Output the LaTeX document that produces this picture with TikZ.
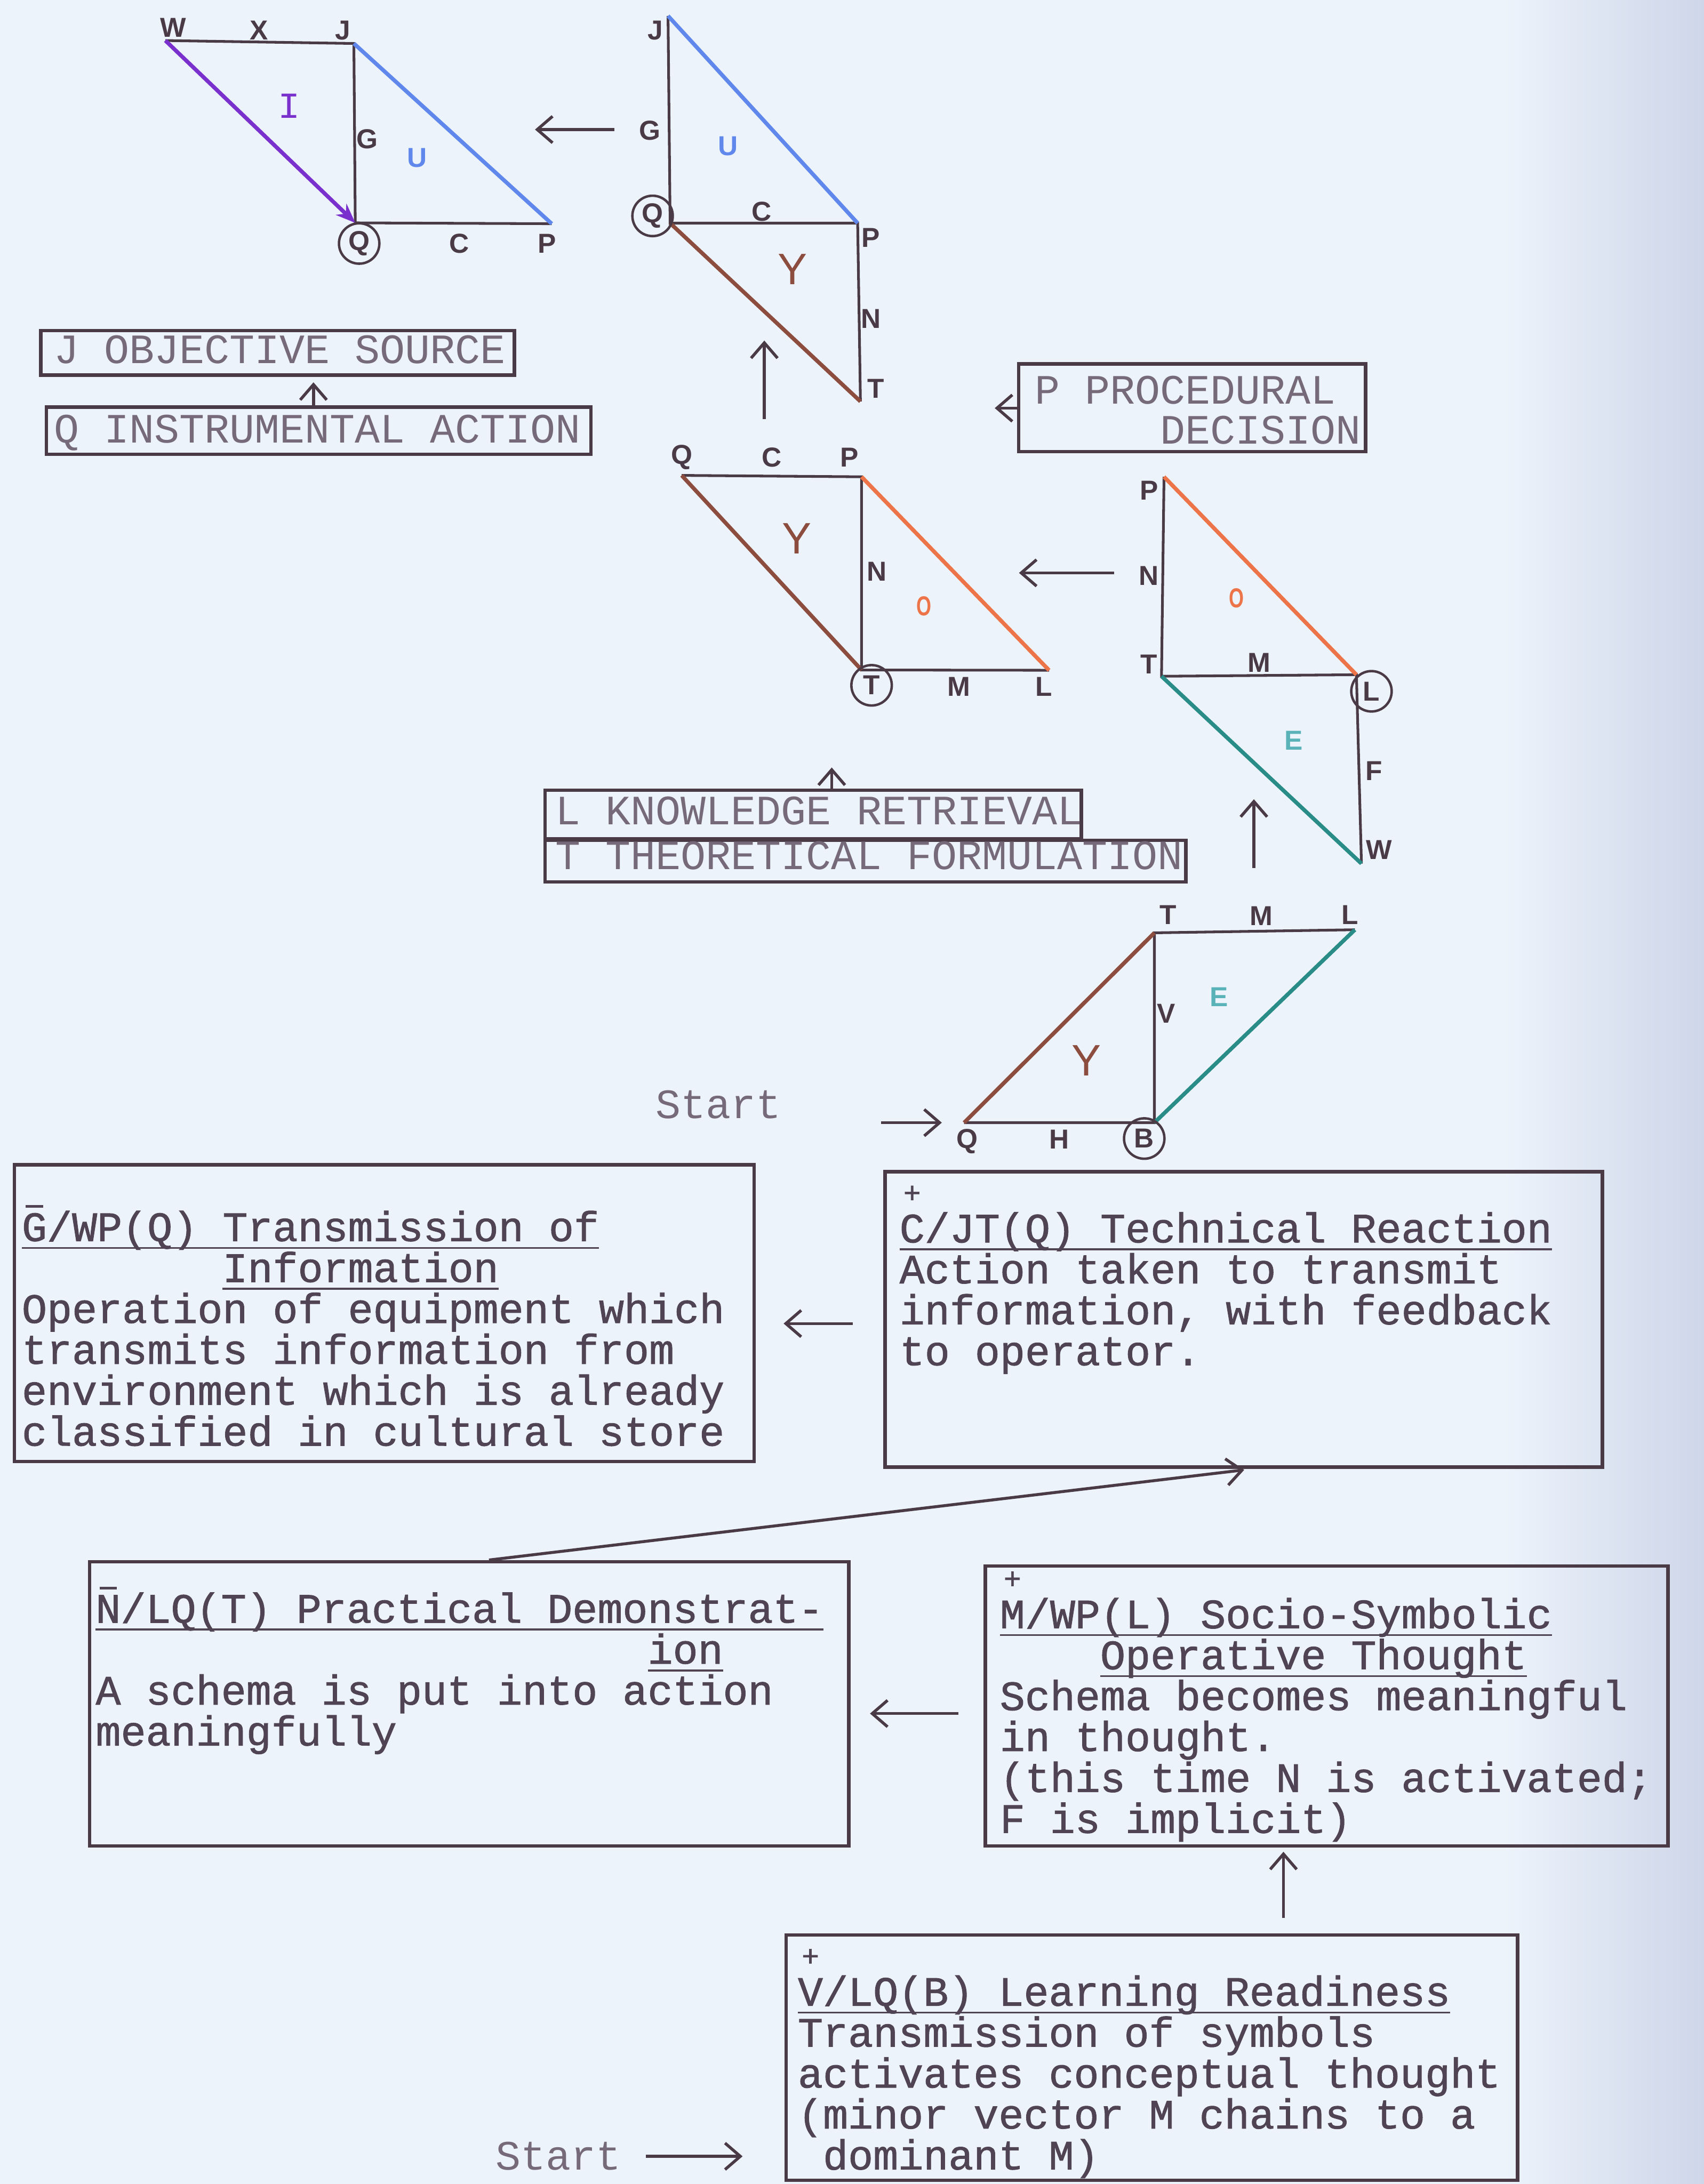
\documentclass[tikz,border=0pt]{standalone}
\usepackage{fontspec}
\newfontfamily\typefont{Liberation Mono}[FakeBold=1.2]
\newfontfamily\platefont{Liberation Mono}
\newfontfamily\handfont{Liberation Sans Bold}
\newfontfamily\yfont{Liberation Sans}
\usetikzlibrary{arrows.meta}

\definecolor{paper}{RGB}{236,243,251}
\definecolor{edge}{RGB}{206,214,233}
\definecolor{ink}{RGB}{74,58,70}
\definecolor{type}{RGB}{80,68,84}
\definecolor{faded}{RGB}{118,106,122}
\definecolor{vpurple}{RGB}{122,48,205}
\definecolor{vblue}{RGB}{96,136,236}
\definecolor{vbrown}{RGB}{140,76,62}
\definecolor{vorange}{RGB}{236,116,72}
\definecolor{vteal}{RGB}{42,140,134}
\definecolor{lteal}{RGB}{88,178,184}

% marks typed over a letter
\newcommand\plusover[1]{\rlap{\makebox[0.6em]{\smash{\raisebox{0.95em}{\fontsize{6}{6}\selectfont +}}}}#1}
\newcommand\barover[1]{\rlap{\makebox[0.6em]{\smash{\raisebox{0.8em}{\rule{0.42em}{0.5pt}}}}}#1}
\newcommand\typeul[1]{\underline{\smash{#1}}}
\newcommand\typegap[1]{\phantom{#1}}
\newcommand\tightlines{\lineskiplimit=-10pt\relax}
\newcommand\wordgaps{\spaceskip=0pt\xspaceskip=0pt\relax}

\begin{document}
\begin{tikzpicture}[x=0.1mm, y=-0.1mm,
  side/.style={ink, line width=0.55pt},
  purpleside/.style={vpurple, line width=0.8pt},
  blueside/.style={vblue, line width=0.8pt},
  brownside/.style={vbrown, line width=0.8pt},
  orangeside/.style={vorange, line width=0.8pt},
  tealside/.style={vteal, line width=0.8pt},
  flow/.style={ink, line width=0.6pt, -{Straight Barb[length=1.1mm,width=1.9mm]}},
  tag/.style={font=\handfont\fontsize{5.6}{5.6}\selectfont, text=ink, inner sep=0},
  ytag/.style={tag, text=vbrown, font=\yfont\fontsize{9}{9}\selectfont},
  ring/.style={tag, circle, draw=ink, line width=0.5pt, minimum size=2.9mm},
  card/.style={draw=ink, line width=0.7pt, inner sep=0, anchor=north west},
  typed/.style={font=\typefont\fontsize{8.54}{8.36}\selectfont\frenchspacing\tightlines, text=type, inner sep=0, anchor=base west, execute at begin node=\wordgaps},
  plate/.style={font=\platefont\fontsize{8.54}{8.2}\selectfont\tightlines, text=faded, inner sep=0, anchor=base west, execute at begin node=\wordgaps}]

% paper
\fill[paper] (0,0) rectangle (1223,1568);
\shade[left color=paper, right color=edge] (1080,0) rectangle (1223,1568);
\useasboundingbox (0,0) rectangle (1223,1568);

% draw figure W X J / Q C P
\coordinate (aW) at (118.7,29.1);
\coordinate (aJ) at (254,31.2);
\coordinate (aQ) at (255,160);
\coordinate (aP) at (396,160.6);
\draw[side] (aW) -- (aJ) -- (aQ) -- (aP);
\draw[blueside] (aJ) -- (aP);
\draw[purpleside, -{Stealth[length=1.4mm,width=1.1mm]}] (aW) -- (aQ);
\node[tag] (aWt) at (124.4,19.8) {W};
\node[tag] (aXt) at (186,21.8) {X};
\node[tag] (aJt) at (246,21.8) {J};
\node[tag] (aGt) at (263.6,99.9) {G};
\node[tag, text=vpurple, font=\platefont\fontsize{7.5}{7.5}\selectfont] (aIt) at (207.6,76) {I};
\node[tag, text=vblue] (aUt) at (299.4,113.4) {U};
\node[ring] (aQt) at (257.8,174.8) {Q};
\node[tag] (aCt) at (329.5,174.8) {C};
\node[tag] (aPt) at (392.6,174.8) {P};

\coordinate (ba1) at (441,93);
\coordinate (ba2) at (384,93);
\draw[flow] (ba1) -- (ba2);

% draw figure J G / Q C P / N T
\coordinate (bJ) at (479.5,11.4);
\coordinate (bQ) at (481,160.2);
\coordinate (bP) at (615.6,160.2);
\coordinate (bT) at (617.6,288.2);
\draw[side] (bJ) -- (bQ) -- (bP) -- (bT);
\draw[blueside] (bJ) -- (bP);
\draw[brownside] (bQ) -- (bT);
\node[tag] (bJt) at (470.3,21.8) {J};
\node[tag] (bGt) at (466.5,93.6) {G};
\node[tag, text=vblue] (bUt) at (522.5,105) {U};
\node[ring] (bQt) at (468.4,155) {Q};
\node[tag] (bCt) at (546.7,151.9) {C};
\node[tag] (bPt) at (625,170.6) {P};
\node[ytag] (bYt) at (569,193.5) {Y};
\node[tag] (bNt) at (625,229) {N};
\node[tag] (bTt) at (628.8,278.8) {T};

\coordinate (cb1) at (548.6,300.7);
\coordinate (cb2) at (548.6,244.5);
\draw[flow] (cb1) -- (cb2);

% draw figure Q C P / N / T M L
\coordinate (cQ) at (489.3,341.3);
\coordinate (cP) at (618.4,342.3);
\coordinate (cT) at (618.4,481);
\coordinate (cL) at (753,481.2);
\draw[side] (cQ) -- (cP) -- (cT) -- (cL);
\draw[brownside] (cQ) -- (cT);
\draw[orangeside] (cP) -- (cL);
\node[tag] (cQt) at (489.3,328.4) {Q};
\node[tag] (cCt) at (553.9,328.4) {C};
\node[tag] (cPt) at (609.5,328.4) {P};
\node[ytag] (cYt) at (571.8,386.5) {Y};
\node[tag] (cNt) at (629.2,410.2) {N};
\node[tag, text=vorange] (cOt) at (663.3,435) {\scalebox{0.7}[1]{O}};
\node[ring] (cTt) at (625.6,492) {T};
\node[tag] (cMt) at (688.4,493) {M};
\node[tag] (cLt) at (749.4,493) {L};

\coordinate (dc1) at (799.6,411.3);
\coordinate (dc2) at (731.4,411.3);
\draw[flow] (dc1) -- (dc2);

% draw figure P N T / M L / F W
\coordinate (dP) at (835.5,342.3);
\coordinate (dT) at (833.7,485.5);
\coordinate (dL) at (973.6,484.4);
\coordinate (dW) at (977.2,620);
\draw[side] (dP) -- (dT) -- (dL) -- (dW);
\draw[orangeside] (dP) -- (dL);
\draw[tealside] (dT) -- (dW);
\node[tag] (dPt) at (824.7,352) {P};
\node[tag] (dNt) at (824.7,413.5) {N};
\node[tag] (dTt) at (824.7,477) {T};
\node[tag] (dMt) at (903.6,475.8) {M};
\node[tag, text=vorange] (dOt) at (887.5,429.6) {\scalebox{0.7}[1]{O}};
\node[ring] (dLt) at (984.4,496.3) {L};
\node[tag, text=lteal] (dEt) at (928.7,531.7) {E};
\node[tag] (dFt) at (986.2,553.3) {F};
\node[tag] (dWt) at (989.7,610.3) {W};

\coordinate (ed1) at (900,623.3);
\coordinate (ed2) at (900,573.8);
\draw[flow] (ed1) -- (ed2);

% draw figure T M L / V / Q H B
\coordinate (eT) at (828.6,669.7);
\coordinate (eL) at (972.5,667.5);
\coordinate (eQ) at (692,806);
\coordinate (eB) at (828.6,806);
\draw[side] (eL) -- (eT) -- (eB) -- (eQ);
\draw[brownside] (eQ) -- (eT);
\draw[tealside] (eB) -- (eL);
\node[tag] (eTt) at (838.3,656.8) {T};
\node[tag] (eMt) at (905.4,657.5) {M};
\node[tag] (eLt) at (968.9,656.8) {L};
\node[tag] (eVt) at (837.1,727.8) {V};
\node[tag, text=lteal] (eEt) at (875,715.6) {E};
\node[ytag] (eYt) at (779.8,761.5) {Y};
\node[tag] (eQt) at (694.4,819.6) {Q};
\node[tag] (eHt) at (760.3,818.1) {H};
\node[ring] (eBt) at (821.3,817.4) {B};

\node[plate] (start1) at (470,803) {Start};
\draw[flow, shorten <=7.1mm, shorten >=1.6mm] (start1.east |- eQ) -- (eQ);

% name plates
\node[card, minimum width=34mm, minimum height=3.2mm] (jbox) at (28,236) {};
\node[plate] (jtext) at (38,261) {J OBJECTIVE SOURCE};
\node[card, minimum width=39.1mm, minimum height=3.4mm] (qbox) at (32,291) {};
\node[plate] (qtext) at (38,318) {Q INSTRUMENTAL ACTION};
\draw[flow, shorten >=0.4mm] ([xshift=19.3mm]qbox.north west) -- ([xshift=19.3mm]qbox.north west |- jbox.south);

\node[card, minimum width=24.9mm, minimum height=6.3mm] (pbox) at (730,260) {};
\node[plate, text width=24mm] (ptext) at (742,290) {P PROCEDURAL\\\typegap{00000}DECISION};
\coordinate (pfree) at (714,293);
\draw[flow] (pbox.west |- pfree) -- (pfree);

\node[card, minimum width=38.5mm, minimum height=3.5mm] (lbox) at (390,566) {};
\node[plate] (ltext) at (398,592) {L KNOWLEDGE RETRIEVAL};
\node[card, minimum width=46mm, minimum height=3mm] (tbox) at (390,602) {};
\node[plate] (ttext) at (398,624) {T THEORETICAL FORMULATION};
\coordinate (lfree) at (597,551);
\draw[flow] (lbox.north -| lfree) -- (lfree);

% typed cards
\node[card, minimum width=53.1mm, minimum height=21.3mm] (gbox) at (9,835) {};
\node[typed, text width=52mm] (gtext) at (15,891) {\typeul{\barover{G}/WP(Q) Transmission of}\\
\typegap{00000000}\typeul{Information}\\
Operation of equipment which\\
transmits information from\\
environment which is already\\
classified in cultural store};

\node[card, minimum width=51.5mm, minimum height=21.2mm] (cbox) at (634,840) {};
\node[typed, text width=50mm] (ctext) at (645,892) {\typeul{\plusover{C}/JT(Q) Technical Reaction}\\
Action taken to transmit\\
information, with feedback\\
to operator.};

\node[card, minimum width=54.5mm, minimum height=20.4mm] (nbox) at (63,1120) {};
\node[typed, text width=53.5mm] (ntext) at (68,1165) {\typeul{\barover{N}/LQ(T) Practical Demonstrat-}\\
\typegap{0000000000000000000000}\typeul{ion}\\
A schema is put into action\\
meaningfully};

\node[card, minimum width=49mm, minimum height=20.1mm] (mbox) at (706,1123) {};
\node[typed, text width=48.5mm] (mtext) at (717,1169) {\typeul{\plusover{M}/WP(L) Socio-Symbolic}\\
\typegap{0000}\typeul{Operative Thought}\\
Schema becomes meaningful\\
in thought.\\
(this time N is activated;\\
F is implicit)};

\node[card, minimum width=52.5mm, minimum height=17.6mm] (vbox) at (563,1388) {};
\node[typed, text width=51.5mm] (vtext) at (572,1440) {\typeul{\plusover{V}/LQ(B) Learning Readiness}\\
Transmission of symbols\\
activates conceptual thought\\
(minor vector M chains to a\\
\typegap{0}dominant M)};

\node[plate] (start2) at (355,1558) {Start};

% draw the chain of cards
\draw[flow, shorten <=1.7mm] (start2.east) -- ([xshift=-3mm]start2.east -| vbox.west);
\draw[flow, shorten <=1.1mm, shorten >=0.3mm] ([xshift=9.45mm]vbox.north) -- ([xshift=9.45mm]vbox.north |- mbox.south);
\draw[flow, shorten <=1.8mm, shorten >=1.4mm] ([yshift=-0.55mm]mbox.west) -- ([yshift=-0.55mm]mbox.west -| nbox.east);
\draw[flow, shorten >=0.7mm] ([xshift=28.8mm]nbox.north west) -- ([xshift=26.6mm]cbox.south west);
\draw[flow, shorten <=2.2mm, shorten >=2mm] ([yshift=-0.3mm]cbox.west) -- ([yshift=-0.3mm]cbox.west -| gbox.east);
\end{tikzpicture}
\end{document}
